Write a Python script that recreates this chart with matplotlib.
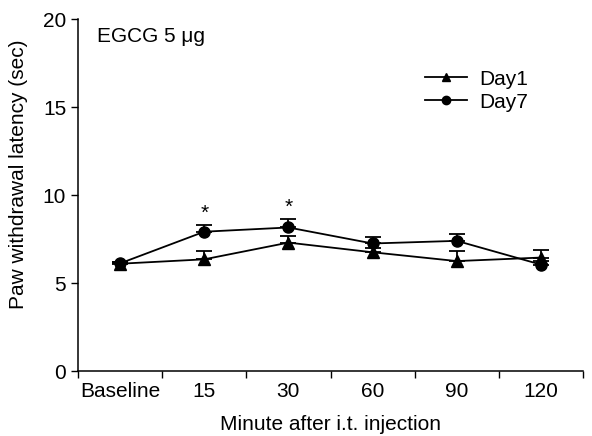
import matplotlib
matplotlib.use("Agg")
import matplotlib.pyplot as plt
import numpy as np

plt.rcParams['font.family'] = ['Liberation Sans', 'DejaVu Sans']

# data
cats = ["Baseline", "15", "30", "60", "90", "120"]
day1 = [6.1, 6.35, 7.3, 6.75, 6.25, 6.45]
day1_err = [0.1, 0.45, 0.4, 0.25, 0.55, 0.42]
day7 = [6.12, 7.92, 8.16, 7.25, 7.4, 6.05]
day7_err = [0.1, 0.38, 0.5, 0.38, 0.38, 0.2]
star_idx = [1, 2]

fs = 15
fig = plt.figure(figsize=(5.92, 4.36), dpi=100)
ax = fig.add_axes([0.1318, 0.149, 0.853, 0.807])

x = np.arange(len(cats))
ax.errorbar(x, day1, yerr=[np.zeros(len(x)), day1_err], color='black', marker='^',
            ms=8, lw=1.3, capsize=6, capthick=1.3, elinewidth=1.3, label='Day1')
ax.errorbar(x, day7, yerr=[np.zeros(len(x)), day7_err], color='black', marker='o',
            ms=8, lw=1.3, capsize=6, capthick=1.3, elinewidth=1.3, label='Day7')

for i in star_idx:
    ax.text(x[i], day7[i] + day7_err[i] + 0.1, '*', ha='center', va='bottom', fontsize=15)

ax.text(-0.27, 19.0, 'EGCG 5 \u03bcg', fontsize=fs, ha='left', va='center')

ax.set_xlim(-0.5, len(cats) - 0.5)
ax.set_ylim(0, 20)
ax.set_yticks([0, 5, 10, 15, 20])
ax.set_xticks(x)
ax.set_xticklabels(cats)
ax.set_xticks(np.arange(-0.5, len(cats)), minor=True)
ax.tick_params(axis='x', which='major', length=0, labelsize=fs, pad=8)
ax.tick_params(axis='x', which='minor', length=5, width=1, direction='out')
ax.tick_params(axis='y', length=5, width=1, labelsize=fs, direction='out')
for s in ['top', 'right']:
    ax.spines[s].set_visible(False)
for s in ['left', 'bottom']:
    ax.spines[s].set_linewidth(1.1)

ax.set_xlabel('Minute after i.t. injection', fontsize=fs, labelpad=10)
ax.set_ylabel('Paw withdrawal latency (sec)', fontsize=fs)
ax.yaxis.set_label_coords(-0.1, 0.56)

h, l = ax.get_legend_handles_labels()
h = [hh[0] for hh in h]
ax.legend(h, l, frameon=False, fontsize=fs, loc='upper left',
          bbox_to_anchor=(0.65, 0.91), handlelength=2.0, labelspacing=0.2,
          markerscale=0.75, handletextpad=0.6)

fig.savefig('out.png', dpi=100)
